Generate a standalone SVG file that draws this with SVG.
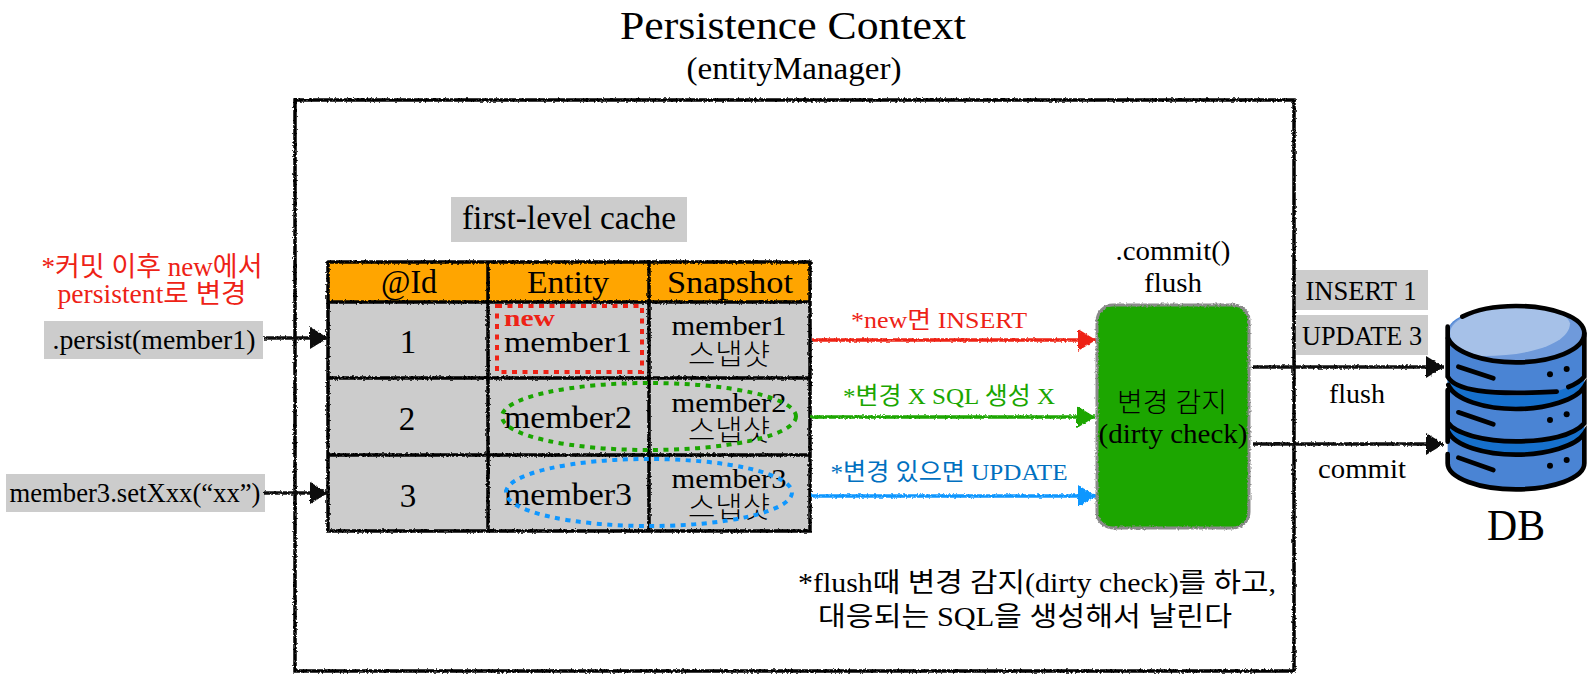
<svg xmlns="http://www.w3.org/2000/svg" width="1594" height="680" viewBox="0 0 1594 680">
<style>
text{font-family:"Liberation Serif","Noto Sans CJK KR",serif;fill:#000;text-anchor:middle}
.s{text-anchor:start}
.ln{stroke:#000;stroke-width:3.5;fill:none}
.lab{fill:#ccc}
.db{fill:none;stroke:#000;stroke-width:14;stroke-linecap:round}
</style>
<defs>
<filter id="rough" filterUnits="userSpaceOnUse" x="0" y="0" width="1594" height="680">
<feTurbulence type="fractalNoise" baseFrequency="0.45" numOctaves="2" seed="4"/>
<feDisplacementMap in="SourceGraphic" scale="3.2" xChannelSelector="R" yChannelSelector="G"/>
</filter>
<marker id="hk" markerUnits="userSpaceOnUse" markerWidth="18" markerHeight="24" refX="18" refY="12" orient="auto"><path d="M0 1L18 12L0 23Z" fill="#111"/></marker>
<marker id="hr" markerUnits="userSpaceOnUse" markerWidth="18" markerHeight="24" refX="18" refY="12" orient="auto"><path d="M0 1L18 12L0 23Z" fill="#EE2216"/></marker>
<marker id="hg" markerUnits="userSpaceOnUse" markerWidth="18" markerHeight="24" refX="18" refY="12" orient="auto"><path d="M0 1L18 12L0 23Z" fill="#1AA600"/></marker>
<marker id="hb" markerUnits="userSpaceOnUse" markerWidth="18" markerHeight="24" refX="18" refY="12" orient="auto"><path d="M0 1L18 12L0 23Z" fill="#0F97FF"/></marker>
</defs>

<g id="title">
<text x="793" y="39" font-size="41" textLength="346" lengthAdjust="spacingAndGlyphs">Persistence Context</text>
<text x="794" y="79" font-size="31" textLength="215" lengthAdjust="spacingAndGlyphs">(entityManager)</text>
</g>

<g id="persistence-context"><rect x="295" y="100" width="999" height="571" fill="none" class="ln" filter="url(#rough)"/></g>

<g id="first-level-cache">
<rect class="lab" x="451" y="197" width="236" height="45"/>
<text x="569" y="229" font-size="33" textLength="214" lengthAdjust="spacingAndGlyphs">first-level cache</text>
</g>

<g id="cache-table">
<g filter="url(#rough)">
<rect x="328" y="262" width="482" height="40" fill="#FFA500"/>
<rect x="328" y="302" width="482" height="229" fill="#ccc"/>
<path class="ln" d="M328 262H810V531H328ZM328 302H810M328 378H810M328 455H810M488 262V531M649 262V531"/>
</g>
<text x="409" y="293" font-size="33" textLength="56" lengthAdjust="spacingAndGlyphs">@Id</text>
<text x="568" y="293" font-size="32" textLength="82" lengthAdjust="spacingAndGlyphs">Entity</text>
<text x="730" y="293" font-size="32" textLength="126" lengthAdjust="spacingAndGlyphs">Snapshot</text>
<text x="408" y="353" font-size="33">1</text>
<text x="407" y="430" font-size="33">2</text>
<text x="408" y="507" font-size="33">3</text>
<text class="s" x="504" y="326" font-size="24" font-weight="700" style="fill:#EE2216" textLength="51" lengthAdjust="spacingAndGlyphs">new</text>
<text x="568" y="352" font-size="30" textLength="128" lengthAdjust="spacingAndGlyphs">member1</text>
<text x="568" y="428" font-size="32" textLength="128" lengthAdjust="spacingAndGlyphs">member2</text>
<text x="568" y="505" font-size="32" textLength="128" lengthAdjust="spacingAndGlyphs">member3</text>
<text x="729" y="335" font-size="28" textLength="115" lengthAdjust="spacingAndGlyphs">member1</text>
<text x="729" y="412" font-size="28" textLength="115" lengthAdjust="spacingAndGlyphs">member2</text>
<text x="729" y="488" font-size="28" textLength="115" lengthAdjust="spacingAndGlyphs">member3</text>
<text x="729" y="365" font-size="29" font-weight="300" textLength="82" lengthAdjust="spacingAndGlyphs">스냅샷</text>
<text x="729" y="441" font-size="29" font-weight="300" textLength="82" lengthAdjust="spacingAndGlyphs">스냅샷</text>
<text x="729" y="518" font-size="29" font-weight="300" textLength="82" lengthAdjust="spacingAndGlyphs">스냅샷</text>
</g>

<g id="highlights" fill="none" stroke-width="4" stroke-dasharray="5 5.5">
<rect x="497" y="306" width="145" height="66" stroke="#EE2216"/>
<ellipse cx="649" cy="416.5" rx="147" ry="33.5" stroke="#1AA600"/>
<ellipse cx="649" cy="492.5" rx="143" ry="33.5" stroke="#0F97FF"/>
</g>

<g id="red-note">
<text x="152" y="276" font-size="27" style="fill:#EE2216" textLength="221" lengthAdjust="spacingAndGlyphs">*커밋 이후 new에서</text>
<text x="152" y="303" font-size="27" style="fill:#EE2216" textLength="189" lengthAdjust="spacingAndGlyphs">persistent로 변경</text>
</g>

<g id="persist-call">
<rect class="lab" x="44" y="321" width="219" height="38"/>
<text x="154" y="349" font-size="27" textLength="203" lengthAdjust="spacingAndGlyphs">.persist(member1)</text>
</g>
<g id="setxxx-call">
<rect class="lab" x="6" y="474" width="259" height="38"/>
<text x="135" y="502" font-size="27" textLength="251" lengthAdjust="spacingAndGlyphs">member3.setXxx(“xx”)</text>
</g>

<g id="connectors" fill="none" stroke-width="3.5" filter="url(#rough)">
<path d="M264 338H328" stroke="#111" marker-end="url(#hk)"/>
<path d="M264 493H328" stroke="#111" marker-end="url(#hk)"/>
<path d="M812 340H1096" stroke="#EE2216" marker-end="url(#hr)"/>
<path d="M810 417H1095" stroke="#1AA600" marker-end="url(#hg)"/>
<path d="M811 496H1096" stroke="#0F97FF" marker-end="url(#hb)"/>
<path d="M1253 367H1444" stroke="#111" marker-end="url(#hk)"/>
<path d="M1253 444H1444" stroke="#111" marker-end="url(#hk)"/>
</g>

<g id="connector-labels">
<text x="939" y="328" font-size="24" style="fill:#EE2216" textLength="176" lengthAdjust="spacingAndGlyphs">*new면 INSERT</text>
<text x="949" y="404" font-size="24" style="fill:#1AA600" textLength="212" lengthAdjust="spacingAndGlyphs">*변경 X SQL 생성 X</text>
<text x="949" y="480" font-size="24" style="fill:#0070C0" textLength="237" lengthAdjust="spacingAndGlyphs">*변경 있으면 UPDATE</text>
<text x="1357" y="403" font-size="27" textLength="56" lengthAdjust="spacingAndGlyphs">flush</text>
<text x="1362" y="478" font-size="27" textLength="88" lengthAdjust="spacingAndGlyphs">commit</text>
</g>

<g id="commit-label">
<text x="1173" y="260" font-size="27" textLength="115" lengthAdjust="spacingAndGlyphs">.commit()</text>
<text x="1173" y="292" font-size="27" textLength="58" lengthAdjust="spacingAndGlyphs">flush</text>
</g>

<g id="dirty-check">
<rect x="1097" y="305" width="152" height="223" rx="16" fill="#1AA600" stroke="#8a8a8a" stroke-width="3" filter="url(#rough)"/>
<text x="1172" y="412" font-size="27" font-weight="300" textLength="110" lengthAdjust="spacingAndGlyphs">변경 감지</text>
<text x="1173" y="443" font-size="27" textLength="149" lengthAdjust="spacingAndGlyphs">(dirty check)</text>
</g>

<g id="insert-1">
<rect class="lab" x="1296" y="270" width="132" height="40"/>
<text x="1361" y="300" font-size="27" textLength="111" lengthAdjust="spacingAndGlyphs">INSERT 1</text>
</g>
<g id="update-3">
<rect class="lab" x="1296" y="315" width="132" height="40"/>
<text x="1362" y="345" font-size="27" textLength="120" lengthAdjust="spacingAndGlyphs">UPDATE 3</text>
</g>

<g id="db">
<g transform="translate(1080 230) scale(0.33333)">
<path d="M1103 305C1103 260 1200 228 1308 228C1416 228 1513 260 1513 305V700C1513 745 1416 778 1308 778C1200 778 1103 745 1103 700Z" fill="#4A84D4"/>
<path d="M1103 440C1140 480 1230 497 1308 497C1390 497 1480 480 1513 440V480C1480 520 1390 537 1308 537C1230 537 1140 520 1103 480Z" fill="#1670CC"/>
<path d="M1103 577C1140 617 1230 634 1308 634C1390 634 1480 617 1513 577V617C1480 657 1390 674 1308 674C1230 674 1140 657 1103 617Z" fill="#1670CC"/>
<path d="M1103 310C1103 265 1200 228 1308 228C1416 228 1513 265 1513 310C1513 360 1416 397 1308 397C1200 397 1103 360 1103 310Z" fill="#6F9ADB"/>
<path d="M1110 310C1110 265 1200 232 1308 232C1400 232 1460 245 1470 280C1470 340 1350 380 1200 378C1140 360 1110 340 1110 310Z" fill="#A6C1E8"/>
<path class="db" d="M1147 260C1190 238 1250 228 1308 228C1416 228 1513 262 1513 310C1513 360 1416 397 1308 397C1215 397 1125 370 1104 325"/>
<path class="db" d="M1103 290V440C1125 480 1215 497 1430 485M1513 310V440C1500 455 1480 465 1465 471M1105 465C1125 510 1215 537 1308 537C1400 537 1490 510 1513 470V580C1480 617 1400 634 1308 634C1215 634 1125 612 1103 577V480M1103 577V635M1105 605C1125 648 1215 674 1308 674C1400 674 1490 648 1513 610V700C1513 745 1416 778 1308 778C1200 778 1103 745 1103 700V672"/>
<path class="db" d="M1135 410L1240 445M1135 547L1240 583M1135 683L1240 720"/>
<g fill="#000"><circle cx="1410" cy="433" r="9"/><circle cx="1460" cy="417" r="9"/><circle cx="1410" cy="570" r="9"/><circle cx="1460" cy="553" r="9"/><circle cx="1410" cy="707" r="9"/><circle cx="1460" cy="690" r="9"/></g>
</g>
<text x="1516" y="540" font-size="44" textLength="58" lengthAdjust="spacingAndGlyphs">DB</text>
</g>

<g id="note">
<text x="1037" y="592" font-size="27" textLength="478" lengthAdjust="spacingAndGlyphs">*flush때 변경 감지(dirty check)를 하고,</text>
<text x="1025" y="626" font-size="27" textLength="414" lengthAdjust="spacingAndGlyphs">대응되는 SQL을 생성해서 날린다</text>
</g>
</svg>
